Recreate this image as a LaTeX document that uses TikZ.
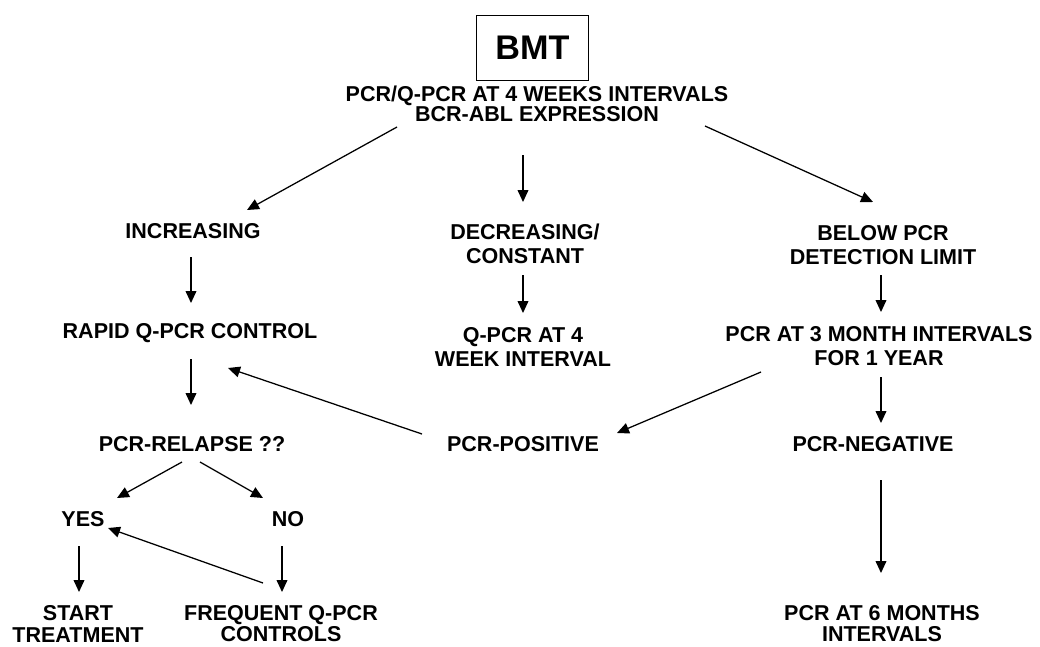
\documentclass[tikz,border=0pt]{standalone}
\usepackage{fontspec}
\setmainfont{Liberation Sans}
\usetikzlibrary{arrows.meta,calc}
\tikzset{
  lbl/.style={inner sep=0pt, align=center, font=\fontsize{15.3}{17.2}\selectfont\bfseries},
  lblbot/.style={lbl, font=\fontsize{15.3}{15}\selectfont\bfseries},
  arr/.style={line width=0.9pt, -{Triangle[length=0.3cm,width=0.27cm]}},
}
\newcommand\conn[4]{\draw[arr] ($(#1)+(#2)$) -- ($(#3)+(#4)$);}
\begin{document}
\begin{tikzpicture}[x=0.025cm,y=-0.025cm]
\useasboundingbox (0,0) rectangle (1040,646);
\node[draw, line width=0.7pt, minimum width=2.775cm, minimum height=1.625cm, inner sep=0pt,
      font=\fontsize{24.3}{28}\selectfont\bfseries] (bmt) at (532.5,47.5) {BMT};
\node[lbl, font=\fontsize{15.3}{14.2}\selectfont\bfseries] (top) at (537,103.5) {PCR/Q-PCR AT 4 WEEKS INTERVALS\\BCR-ABL EXPRESSION};
\node[lbl] (inc) at (193,231) {INCREASING};
\node[lbl] (dec) at (525,244) {DECREASING/\\CONSTANT};
\node[lbl] (below) at (883,245) {BELOW PCR\\DETECTION LIMIT};
\node[lbl] (rapid) at (190,333) {RAPID Q-PCR CONTROL};
\node[lbl] (q4) at (523,347) {Q-PCR AT 4\\WEEK INTERVAL};
\node[lbl] (pcr3) at (879,346) {PCR AT 3 MONTH INTERVALS\\FOR 1 YEAR};
\node[lbl] (pos) at (523,444) {PCR-POSITIVE};
\node[lbl] (neg) at (873,444) {PCR-NEGATIVE};
\node[lbl] (relapse) at (192,444) {PCR-RELAPSE ??};
\node[lbl] (yes) at (83,519) {YES};
\node[lbl] (no) at (288,519) {NO};
\node[lblbot] (start) at (78,624) {START\\TREATMENT};
\node[lblbot] (freq) at (281,624) {FREQUENT Q-PCR\\CONTROLS};
\node[lblbot] (six) at (882,624) {PCR AT 6 MONTHS\\INTERVALS};
\conn{top}{-140,23.5}{inc}{54,-21}
\conn{top}{-14,51.5}{dec}{-2,-42}
\conn{top}{168,22.5}{below}{-10,-43}
\conn{inc}{-2,26}{rapid}{1,-30}
\conn{dec}{-2,31}{q4}{0,-34}
\conn{below}{-2,30}{pcr3}{2,-34}
\conn{rapid}{1,26}{relapse}{-1,-39}
\conn{pos}{-101,-10}{rapid}{38,35}
\conn{pcr3}{-118,26}{pos}{94,-11}
\conn{pcr3}{2,31}{neg}{8,-21}
\conn{relapse}{-10,18}{yes}{34,-21}
\conn{relapse}{8,18}{no}{-25,-21}
\conn{freq}{-18,-41}{yes}{25,9}
\conn{yes}{-4,27}{start}{1,-32}
\conn{no}{-6,27}{freq}{1,-32}
\conn{neg}{8,36}{six}{-1,-51}
\end{tikzpicture}
\end{document}
